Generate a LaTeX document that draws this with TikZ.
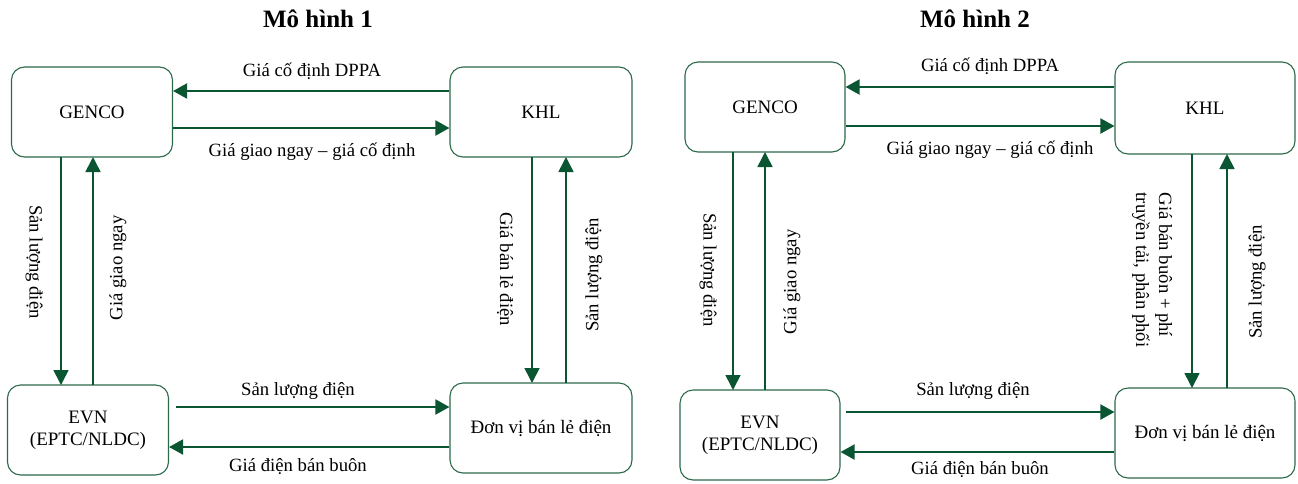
\documentclass[tikz,border=0pt]{standalone}
\usepackage{fontspec}
\setmainfont{Liberation Serif}
\usetikzlibrary{arrows.meta}
\definecolor{boxc}{RGB}{45,105,75}
\definecolor{arrc}{RGB}{10,85,50}
\begin{document}
\begin{tikzpicture}[x=1pt,y=-1pt,
  box/.style={draw=boxc,line width=1.1pt,rounded corners=13pt,inner sep=0pt,align=center,font=\fontsize{19}{22}\selectfont},
  arr/.style={draw=arrc,line width=2pt,-{Triangle[length=14pt,width=15pt]}},
  varr/.style={draw=arrc,line width=1.6pt,-{Triangle[length=15pt,width=15pt]}},
  lab/.style={font=\fontsize{18.7}{23}\selectfont,inner sep=0pt,align=center},
  ttl/.style={font=\fontsize{25}{28}\selectfont\bfseries,inner sep=0pt}]
\useasboundingbox (0,0) rectangle (1298,483);
% ---------- Model 1 ----------
\node[ttl] (t1) at (318,19) {Mô hình 1};
\node[box,minimum width=161pt,minimum height=90pt] (g1) at (92,112) {GENCO};
\node[box,minimum width=182pt,minimum height=90pt] (k1) at (541,112) {KHL};
\node[box,minimum width=161pt,minimum height=90pt] (e1) at (88,430) {EVN\\(EPTC/NLDC)};
\node[box,minimum width=182pt,minimum height=90pt] (d1) at (541,428) {Đơn vị bán lẻ điện};
\draw[arr] (k1.west|-0,91) -- (g1.east|-0,91);
\draw[arr] (g1.east|-0,128) -- (k1.west|-0,128);
\draw[arr] (176,407) -- (d1.west|-0,407);
\draw[arr] (d1.west|-0,447) -- (e1.east|-0,447);
\node[lab] (l1a) at (312,71) {Giá cố định DPPA};
\node[lab] (l1b) at (312,152) {Giá giao ngay – giá cố định};
\node[lab] (l1c) at (298,391) {Sản lượng điện};
\node[lab] (l1d) at (298,467) {Giá điện bán buôn};
\draw[varr] (61,157) -- (61,385);
\draw[varr] (93,385) -- (93,157);
\draw[varr] (532,157) -- (532,383);
\draw[varr] (566,383) -- (566,157);
\node[lab,rotate=-90] (l1e) at (34,262) {Sản lượng điện};
\node[lab,rotate=90] (l1f) at (118,268) {Giá giao ngay};
\node[lab,rotate=-90] (l1g) at (505,269) {Giá bán lẻ điện};
\node[lab,rotate=90] (l1h) at (594,275) {Sản lượng điện};
% ---------- Model 2 ----------
\node[ttl] (t2) at (975,19) {Mô hình 2};
\node[box,minimum width=160pt,minimum height=90pt] (g2) at (765,107) {GENCO};
\node[box,minimum width=180pt,minimum height=92pt] (k2) at (1205,108) {KHL};
\node[box,minimum width=160pt,minimum height=90pt] (e2) at (760,435) {EVN\\(EPTC/NLDC)};
\node[box,minimum width=180pt,minimum height=90pt] (d2) at (1205,433) {Đơn vị bán lẻ điện};
\draw[arr] (k2.west|-0,87) -- (g2.east|-0,87);
\draw[arr] (g2.east|-0,126) -- (k2.west|-0,126);
\draw[arr] (846,412) -- (d2.west|-0,412);
\draw[arr] (d2.west|-0,452) -- (e2.east|-0,452);
\node[lab] (l2a) at (990,66) {Giá cố định DPPA};
\node[lab] (l2b) at (990,150) {Giá giao ngay – giá cố định};
\node[lab] (l2c) at (973,391) {Sản lượng điện};
\node[lab] (l2d) at (980,470) {Giá điện bán buôn};
\draw[varr] (733,152) -- (733,390);
\draw[varr] (765,390) -- (765,152);
\draw[varr] (1192,154) -- (1192,388);
\draw[varr] (1227,388) -- (1227,154);
\node[lab,rotate=-90] (l2e) at (708,270) {Sản lượng điện};
\node[lab,rotate=90] (l2f) at (792,282) {Giá giao ngay};
\node[lab,rotate=-90,align=left] (l2g) at (1152,270) {Giá bán buôn + phí\\truyền tải, phân phối};
\node[lab,rotate=90] (l2h) at (1257,282) {Sản lượng điện};
\end{tikzpicture}
\end{document}
